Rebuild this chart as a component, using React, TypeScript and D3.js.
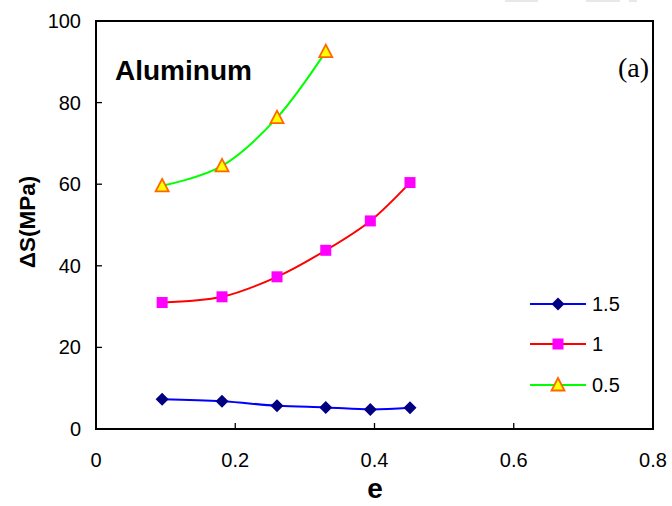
import React from "react";
import * as d3 from "d3";

const xTicks = [0, 0.2, 0.4, 0.6, 0.8];
const yTicks = [0, 20, 40, 60, 80, 100];

const eBlue = [0.095, 0.181, 0.26, 0.33, 0.394, 0.451];
const sBlue = [7.3, 6.8, 5.7, 5.3, 4.8, 5.2];
const eRed = [0.095, 0.181, 0.26, 0.33, 0.394, 0.451];
const sRed = [31.0, 32.4, 37.3, 43.8, 51.0, 60.4];
const eGreen = [0.095, 0.181, 0.26, 0.33];
const sGreen = [59.6, 64.5, 76.3, 92.5];

const seriesNames = ["1.5", "1", "0.5"];

const W = 672, H = 506;
const left = 96, right = 653, top = 21, bottom = 429;

export default function App() {
  const x = d3.scaleLinear().domain([0, 0.8]).range([left, right]);
  const y = d3.scaleLinear().domain([0, 100]).range([bottom, top]);
  const line = d3
    .line<[number, number]>()
    .x((d) => x(d[0]))
    .y((d) => y(d[1]))
    .curve(d3.curveCatmullRom.alpha(0));

  const pts = (xs: number[], ys: number[]) => xs.map((v, i) => [v, ys[i]] as [number, number]);
  const blue = pts(eBlue, sBlue);
  const red = pts(eRed, sRed);
  const green = pts(eGreen, sGreen);

  const diamond = (cx: number, cy: number, k: string | number) => (
    <path key={k} d={`M${cx},${cy - 6.5}L${cx + 6.5},${cy}L${cx},${cy + 6.5}L${cx - 6.5},${cy}Z`} fill="#000080" />
  );
  const square = (cx: number, cy: number, k: string | number) => (
    <rect key={k} x={cx - 5.5} y={cy - 5.5} width={11} height={11} fill="#FF00FF" />
  );
  const tri = (cx: number, cy: number, k: string | number) => (
    <path key={k} d={`M${cx},${cy - 7}L${cx + 6.5},${cy + 5.5}L${cx - 6.5},${cy + 5.5}Z`} fill="#FFFF00" stroke="#FF6600" strokeWidth={1.8} strokeLinejoin="miter" />
  );

  const font = "Arial, 'Liberation Sans', sans-serif";
  const legendRows = [
    { name: seriesNames[0], color: "#0000FF", mk: diamond, y: 304 },
    { name: seriesNames[1], color: "#FF0000", mk: square, y: 344 },
    { name: seriesNames[2], color: "#00FF00", mk: tri, y: 385 },
  ];

  return (
    <svg width={W} height={H} style={{ position: "absolute", left: 0, top: 0, background: "#fff" }}>
      <rect x={0} y={0} width={W} height={H} fill="#fff" />
      <rect x={505} y={0} width={33} height={2} fill="#e8e8e8" />
      <rect x={586} y={0} width={34} height={2} fill="#e8e8e8" />
      <rect x={629} y={0} width={8} height={2} fill="#e8e8e8" />

      {/* ticks */}
      {yTicks.slice(1, -1).map((t) => (
        <line key={"yt" + t} x1={left} x2={left + 6} y1={y(t)} y2={y(t)} stroke="#000" strokeWidth={1.3} />
      ))}
      {xTicks.slice(1, -1).map((t) => (
        <line key={"xt" + t} x1={x(t)} x2={x(t)} y1={bottom} y2={bottom - 6} stroke="#000" strokeWidth={1.3} />
      ))}
      <rect x={left} y={top} width={right - left} height={bottom - top} fill="none" stroke="#000" strokeWidth={2} />

      {/* tick labels */}
      {yTicks.map((t) => (
        <text key={"yl" + t} x={81} y={y(t) + 7} textAnchor="end" fontFamily={font} fontSize={20}>
          {t}
        </text>
      ))}
      {xTicks.map((t) => (
        <text key={"xl" + t} x={x(t)} y={467} textAnchor="middle" fontFamily={font} fontSize={20}>
          {t}
        </text>
      ))}

      {/* axis titles */}
      <text x={375} y={498} textAnchor="middle" fontFamily={font} fontSize={28} fontWeight="bold">
        e
      </text>
      <text transform="translate(35,222) rotate(-90)" textAnchor="middle" fontFamily={font} fontSize={22.5} fontWeight="bold">
        ΔS(MPa)
      </text>

      <text x={115} y={80} fontFamily={font} fontSize={28} fontWeight="bold">
        Aluminum
      </text>
      <text x={649} y={77} textAnchor="end" fontFamily="'Liberation Serif', 'Times New Roman', serif" fontSize={28}>
        (a)
      </text>

      {/* lines */}
      <path d={line(green) || ""} fill="none" stroke="#00FF00" strokeWidth={2} />
      <path d={line(red) || ""} fill="none" stroke="#FF0000" strokeWidth={2} />
      <path d={line(blue) || ""} fill="none" stroke="#0000FF" strokeWidth={2} />

      {blue.map((d, i) => diamond(x(d[0]), y(d[1]), "b" + i))}
      {red.map((d, i) => square(x(d[0]), y(d[1]), "r" + i))}
      {green.map((d, i) => tri(x(d[0]), y(d[1]), "g" + i))}

      {/* legend */}
      {legendRows.map((r, i) => (
        <g key={"lg" + i}>
          <line x1={530} x2={586} y1={r.y} y2={r.y} stroke={r.color} strokeWidth={2} />
          {r.mk(558, r.y, "m" + i)}
          <text x={592} y={r.y + 7} fontFamily={font} fontSize={20}>
            {r.name}
          </text>
        </g>
      ))}
    </svg>
  );
}
